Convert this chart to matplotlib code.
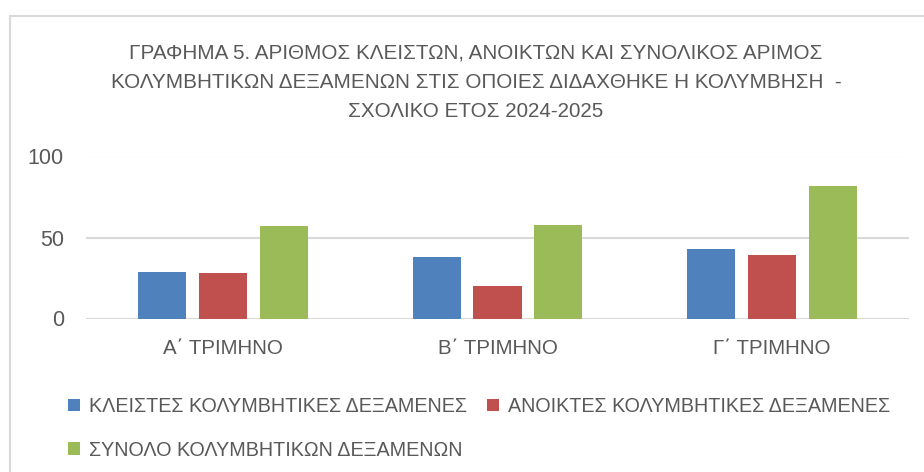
import numpy as np
import matplotlib.pyplot as plt
from matplotlib.patches import Rectangle

plt.rcParams['font.family'] = ['Liberation Sans', 'DejaVu Sans']

# δεδομένα
categories = ['Α΄ ΤΡΙΜΗΝΟ', 'Β΄ ΤΡΙΜΗΝΟ', 'Γ΄ ΤΡΙΜΗΝΟ']
series_names = ['ΚΛΕΙΣΤΕΣ ΚΟΛΥΜΒΗΤΙΚΕΣ ΔΕΞΑΜΕΝΕΣ',
                'ΑΝΟΙΚΤΕΣ ΚΟΛΥΜΒΗΤΙΚΕΣ ΔΕΞΑΜΕΝΕΣ',
                'ΣΥΝΟΛΟ ΚΟΛΥΜΒΗΤΙΚΩΝ ΔΕΞΑΜΕΝΩΝ']
kleistes = [29, 38, 43]
anoiktes = [28, 20, 39]
synolo = [57, 58, 82]
yticks = [0, 50, 100]

colors = ['#4F81BD', '#C0504D', '#9BBB59']
txt = '#595959'

fig = plt.figure(figsize=(9.24, 4.72), dpi=100)
ax = fig.add_axes([86/924, 1-318.5/472, (909-86)/924, (318.5-156.5)/472])

x = np.arange(len(categories))
w = 0.175
step = 0.222
bars = []
for i, (vals, c, name) in enumerate(zip([kleistes, anoiktes, synolo], colors, series_names)):
    b = ax.bar(x + (i-1)*step, vals, w, color=c, label=name, zorder=3)
    bars.append(b)

ax.set_xlim(-0.5, 2.5)
ax.set_ylim(0, 100)
ax.set_yticks(yticks)
ax.set_xticks(x)
ax.set_xticklabels(categories, fontsize=14.8)
ax.tick_params(axis='both', length=0, colors=txt)
ax.tick_params(axis='y', pad=16, labelsize=15.5)
ax.tick_params(axis='x', pad=15)
ax.grid(axis='y', color='#D9D9D9', linewidth=1.5, zorder=0)
for s in ax.spines.values():
    s.set_visible(False)

# τίτλος
fig.text(476/924, 1-82/472,
         'ΓΡΑΦΗΜΑ 5. ΑΡΙΘΜΟΣ ΚΛΕΙΣΤΩΝ, ΑΝΟΙΚΤΩΝ ΚΑΙ ΣΥΝΟΛΙΚΟΣ ΑΡΙΜΟΣ\n'
         'ΚΟΛΥΜΒΗΤΙΚΩΝ ΔΕΞΑΜΕΝΩΝ ΣΤΙΣ ΟΠΟΙΕΣ ΔΙΔΑΧΘΗΚΕ Η ΚΟΛΥΜΒΗΣΗ  -\n'
         'ΣΧΟΛΙΚΟ ΕΤΟΣ 2024-2025',
         ha='center', va='center', fontsize=14.9, color=txt, linespacing=1.68)

# υπόμνημα: σειρά για ncol=2
handles = [bars[0], bars[2], bars[1]]
labels = [series_names[0], series_names[2], series_names[1]]
fig.legend(handles, labels, ncol=2, loc='upper left',
           bbox_to_anchor=(58/924, 1-387/472), frameon=False,
           fontsize=14.2, labelcolor=txt, handlelength=0.62, handleheight=0.62,
           handletextpad=0.45, columnspacing=1.0, labelspacing=1.25, borderpad=0)

# πλαίσιο
fig.patches.append(Rectangle((9.5/924, -0.1), 1.2, 1-15.5/472+0.1, transform=fig.transFigure,
                             fill=False, edgecolor='#D9D9D9', linewidth=1.5))

plt.savefig('out.png', dpi=100)
